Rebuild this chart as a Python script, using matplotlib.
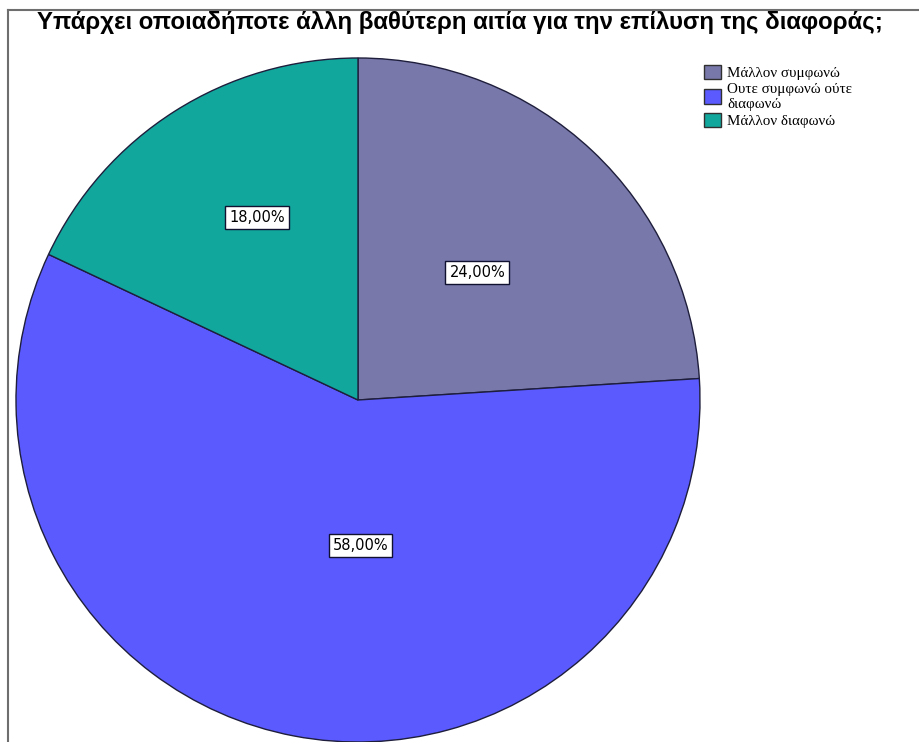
import numpy as np
import matplotlib.pyplot as plt
from matplotlib.lines import Line2D

categories = ['Μάλλον συμφωνώ', 'Ουτε συμφωνώ ούτε\nδιαφωνώ', 'Μάλλον διαφωνώ']
values = [24.0, 58.0, 18.0]
colors = ['#7878aa', '#5a5aff', '#12a79d']
title = 'Υπάρχει οποιαδήποτε άλλη βαθύτερη αιτία για την επίλυση της διαφοράς;'

W, H = 919, 742
fig = plt.figure(figsize=(W / 100, H / 100), dpi=100)
ax = fig.add_axes([0, 0, 1, 1])

# window frame (screenshot border)
fig.add_artist(Line2D([8 / W, 1], [1 - 10 / H, 1 - 10 / H], color='#6e6e6e', lw=1.5))
fig.add_artist(Line2D([8 / W, 8 / W], [0, 1 - 10 / H], color='#6e6e6e', lw=1.5))

wedges, texts, autotexts = ax.pie(
    values, colors=colors, startangle=90, counterclock=False,
    center=(358, 342), radius=342, frame=True,
    autopct=lambda p: ('%.2f%%' % p).replace('.', ','),
    pctdistance=0.52,
    wedgeprops=dict(edgecolor='#1e1e3c', linewidth=1.0))
ax.set_xlim(0, W)
ax.set_ylim(0, H)
ax.set_aspect('equal')
ax.axis('off')

# SPSS-style label placement (angle from centre in degrees, fraction of radius)
label_place = [(46.8, 0.51), (-89.0, 0.425), (119.0, 0.61)]
for t, (ang, d) in zip(autotexts, label_place):
    a = np.deg2rad(ang)
    t.set_position((358 + d * 342 * np.cos(a), 342 + d * 342 * np.sin(a)))
    t.set_fontsize(10.5)
    t.set_family('DejaVu Sans')
    t.set_color('black')
    t.set_bbox(dict(facecolor='white', edgecolor='#101030', linewidth=1.0, boxstyle='square,pad=0.28'))

fig.text(460 / W, 1 - 23 / H, title, ha='center', va='center', fontsize=17.3,
         fontweight='bold', family='Liberation Sans')

leg = fig.legend(wedges, categories, loc='upper left', bbox_to_anchor=(698 / W, 1 - 59 / H),
                 frameon=False, handlelength=1.1, handleheight=1.1,
                 labelspacing=0.15, handletextpad=0.45, borderaxespad=0,
                 prop=dict(family='Liberation Serif', size=10.8))
for h in leg.legend_handles:
    h.set_edgecolor('#303030')
    h.set_linewidth(1.0)

fig.savefig('out.png', dpi=100)
